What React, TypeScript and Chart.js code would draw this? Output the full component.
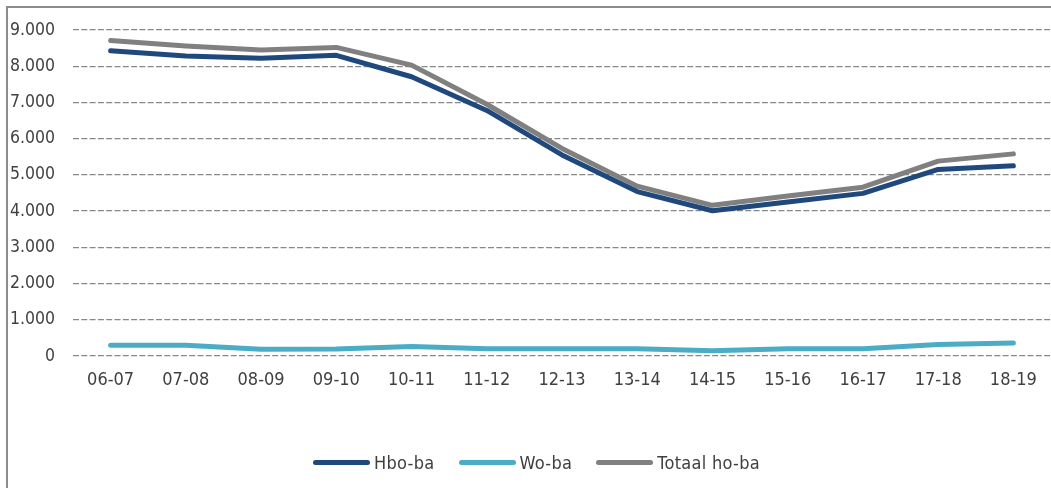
import React, { useEffect, useRef } from "react";
import { Chart, registerables } from "chart.js";

Chart.register(...registerables);

const categories = ["06-07", "07-08", "08-09", "09-10", "10-11", "11-12", "12-13", "13-14", "14-15", "15-16", "16-17", "17-18", "18-19"];
const hboBa = [8430, 8280, 8220, 8300, 7710, 6780, 5550, 4540, 4010, 4250, 4490, 5150, 5250];
const woBa = [300, 300, 185, 190, 260, 200, 200, 200, 145, 200, 200, 320, 360];
const totaalHoBa = [8710, 8560, 8450, 8520, 8030, 6950, 5730, 4690, 4160, 4420, 4660, 5380, 5580];
const seriesNames = ["Hbo-ba", "Wo-ba", "Totaal ho-ba"];
const seriesColors = ["#1F497D", "#4BACC6", "#808080"];
const yMax = 9000;
const yStep = 1000;

const FONT_FAMILY = "'DejaVu Sans Condensed', 'DejaVu Sans', Verdana, sans-serif";
const TEXT_COLOR = "#404040";

const formatThousands = (v: number) => String(Math.round(v)).replace(/\B(?=(\d{3})+(?!\d))/g, ".");

export default function App() {
  const canvasRef = useRef<HTMLCanvasElement | null>(null);

  useEffect(() => {
    if (!canvasRef.current) return;
    const font = { family: FONT_FAMILY, size: 17.5 };
    const xFont = { family: FONT_FAMILY, size: 18 };
    const seriesData = [hboBa, woBa, totaalHoBa];
    const chart = new Chart(canvasRef.current, {
      type: "line",
      data: {
        labels: categories,
        datasets: seriesNames.map((name, i) => ({
          label: name,
          data: seriesData[i],
          borderColor: seriesColors[i],
          backgroundColor: seriesColors[i],
          borderWidth: 5,
          pointRadius: 0,
          pointHoverRadius: 0,
          tension: 0,
          borderCapStyle: "round" as const,
          borderJoinStyle: "round" as const,
          fill: false,
        })),
      },
      options: {
        responsive: false,
        animation: false,
        maintainAspectRatio: false,
        layout: { padding: { top: 30, left: 0, right: 0, bottom: 0 } },
        plugins: {
          legend: { display: false },
          tooltip: { enabled: false },
        },
        scales: {
          x: {
            offset: true,
            grid: { display: false, drawTicks: false },
            border: { display: false },
            ticks: { font: xFont, color: TEXT_COLOR, padding: 14, maxRotation: 0, autoSkip: false },
            afterFit: (scale: any) => {
              scale.height = 132;
            },
          },
          y: {
            min: 0,
            max: yMax,
            grid: { color: "#888888", lineWidth: 1.3, drawTicks: false },
            border: { display: false, dash: [6, 2.3] },
            ticks: {
              font,
              color: TEXT_COLOR,
              stepSize: yStep,
              padding: 18,
              callback: (v: any) => formatThousands(Number(v)),
            },
            afterFit: (scale: any) => {
              scale.width = 73;
            },
          },
        },
      },
    });
    return () => chart.destroy();
  }, []);

  return (
    <div style={{ position: "fixed", left: 0, top: 0, width: 1051, height: 488, overflow: "hidden", background: "#fff" }}>
      <canvas ref={canvasRef} width={1051} height={488} style={{ position: "absolute", left: 0, top: 0 }} />
      <div style={{ position: "absolute", left: 6, top: 6, width: 1.5, height: 482, background: "#8c8c8c" }} />
      <div style={{ position: "absolute", left: 6, top: 6, width: 1045, height: 1.5, background: "#8c8c8c" }} />
      <div
        style={{
          position: "absolute",
          left: 313,
          top: 450,
          height: 24,
          display: "flex",
          alignItems: "center",
          fontFamily: FONT_FAMILY,
          fontSize: 18,
          letterSpacing: 0.3,
          color: TEXT_COLOR,
          whiteSpace: "nowrap",
        }}
      >
        {seriesNames.map((name, i) => (
          <div key={name} style={{ display: "flex", alignItems: "center", marginLeft: i === 0 ? 0 : 24 }}>
            <span
              style={{
                display: "inline-block",
                width: 57,
                height: 5,
                borderRadius: 2.5,
                background: seriesColors[i],
                marginRight: 4,
              }}
            />
            <span>{name}</span>
          </div>
        ))}
      </div>
    </div>
  );
}
